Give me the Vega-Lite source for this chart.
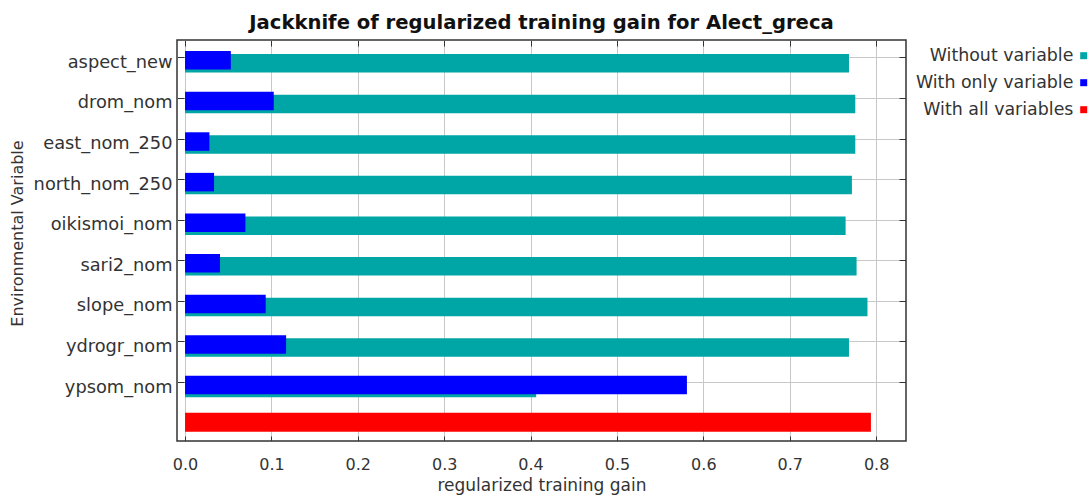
{
  "$schema": "https://vega.github.io/schema/vega-lite/v6.json",
  "width": 729,
  "height": 401,
  "autosize": "none",
  "padding": {"left": 177, "top": 40, "right": 185, "bottom": 56},
  "background": "white",
  "title": {"text": "Jackknife of regularized training gain for Alect_greca", "font": "DejaVu Sans", "fontSize": 19.6, "fontWeight": "bold", "anchor": "middle", "offset": 6, "color": "#111"},
  "config": {
    "view": {"stroke": "#333", "strokeWidth": 1.5},
    "axis": {"labelFont": "DejaVu Sans", "titleFont": "DejaVu Sans", "labelColor": "#333", "titleColor": "#333", "titleFontWeight": "normal", "tickColor": "#333", "domain": false, "gridColor": "#c8c8c8", "gridWidth": 1},
    "legend": {"labelFont": "DejaVu Sans"}
  },
  "data": {"values": [
    {"variable": "aspect_new", "series": "Without variable", "gain": 0.7686},
    {"variable": "aspect_new", "series": "With only variable", "gain": 0.053},
    {"variable": "drom_nom", "series": "Without variable", "gain": 0.7759},
    {"variable": "drom_nom", "series": "With only variable", "gain": 0.1027},
    {"variable": "east_nom_250", "series": "Without variable", "gain": 0.7759},
    {"variable": "east_nom_250", "series": "With only variable", "gain": 0.0282},
    {"variable": "north_nom_250", "series": "Without variable", "gain": 0.772},
    {"variable": "north_nom_250", "series": "With only variable", "gain": 0.0336},
    {"variable": "oikismoi_nom", "series": "Without variable", "gain": 0.7647},
    {"variable": "oikismoi_nom", "series": "With only variable", "gain": 0.0699},
    {"variable": "sari2_nom", "series": "Without variable", "gain": 0.7774},
    {"variable": "sari2_nom", "series": "With only variable", "gain": 0.0405},
    {"variable": "slope_nom", "series": "Without variable", "gain": 0.790},
    {"variable": "slope_nom", "series": "With only variable", "gain": 0.0934},
    {"variable": "ydrogr_nom", "series": "Without variable", "gain": 0.7686},
    {"variable": "ydrogr_nom", "series": "With only variable", "gain": 0.117},
    {"variable": "ypsom_nom", "series": "Without variable", "gain": 0.4065},
    {"variable": "ypsom_nom", "series": "With only variable", "gain": 0.581},
    {"variable": "All", "series": "With all variables", "gain": 0.794}
  ]},
  "layer": [
    {
      "transform": [{"filter": "datum.series == 'Without variable'"}],
      "mark": {"type": "bar", "height": 18.5, "yOffset": 5.5},
      "encoding": {
        "y": {"field": "variable", "type": "nominal", "sort": ["aspect_new","drom_nom","east_nom_250","north_nom_250","oikismoi_nom","sari2_nom","slope_nom","ydrogr_nom","ypsom_nom","All"],
              "scale": {"domain": ["aspect_new","drom_nom","east_nom_250","north_nom_250","oikismoi_nom","sari2_nom","slope_nom","ydrogr_nom","ypsom_nom","All"], "paddingInner": 0.5, "paddingOuter": 0.19},
              "axis": {"orient": "left", "values": ["aspect_new","drom_nom","east_nom_250","north_nom_250","oikismoi_nom","sari2_nom","slope_nom","ydrogr_nom","ypsom_nom"], "grid": true, "tickSize": -7, "labelPadding": 12, "labelOffset": 5, "labelFontSize": 17.8, "title": "Environmental Variable", "titleFontSize": 16, "titlePadding": 8, "titleY": 193}},
        "x": {"field": "gain", "type": "quantitative", "scale": {"domain": [-0.0093, 0.8346], "nice": false, "zero": false},
              "axis": {"orient": "bottom", "values": [0,0.1,0.2,0.3,0.4,0.5,0.6,0.7,0.8], "format": ".1f", "grid": true, "tickSize": -5, "labelPadding": 20, "labelFontSize": 16, "title": "regularized training gain", "titleFontSize": 17, "titlePadding": 5}},
        "color": {"field": "series", "type": "nominal",
                  "scale": {"domain": ["Without variable", "With only variable", "With all variables"], "range": ["#00A6A6", "#0000FF", "#FF0000"]},
                  "legend": {"orient": "none", "legendX": 898, "legendY": 7, "title": null, "symbolType": "square", "symbolSize": 49, "symbolStrokeWidth": 0, "labelAlign": "right", "labelOffset": -19, "labelFontSize": 17.4, "labelColor": "#333", "rowPadding": 8, "padding": 0}}
      }
    },
    {
      "transform": [{"filter": "datum.series == 'With only variable'"}],
      "mark": {"type": "bar", "height": 18.5, "yOffset": 2.5},
      "encoding": {
        "y": {"field": "variable", "type": "nominal", "sort": ["aspect_new","drom_nom","east_nom_250","north_nom_250","oikismoi_nom","sari2_nom","slope_nom","ydrogr_nom","ypsom_nom","All"],
              "axis": {"orient": "right", "values": ["aspect_new","drom_nom","east_nom_250","north_nom_250","oikismoi_nom","sari2_nom","slope_nom","ydrogr_nom","ypsom_nom"], "grid": false, "tickSize": -7, "labels": false, "title": null}},
        "x": {"field": "gain", "type": "quantitative",
              "axis": {"orient": "top", "values": [0,0.1,0.2,0.3,0.4,0.5,0.6,0.7,0.8], "grid": false, "tickSize": -6, "labels": false, "title": null}},
        "color": {"field": "series", "type": "nominal"}
      }
    },
    {
      "transform": [{"filter": "datum.series == 'With all variables'"}],
      "mark": {"type": "bar", "height": 19, "yOffset": -1},
      "encoding": {
        "y": {"field": "variable", "type": "nominal", "sort": ["aspect_new","drom_nom","east_nom_250","north_nom_250","oikismoi_nom","sari2_nom","slope_nom","ydrogr_nom","ypsom_nom","All"], "axis": null},
        "x": {"field": "gain", "type": "quantitative", "axis": null},
        "color": {"field": "series", "type": "nominal"}
      }
    }
  ],
  "resolve": {"axis": {"x": "independent", "y": "independent"}}
}
